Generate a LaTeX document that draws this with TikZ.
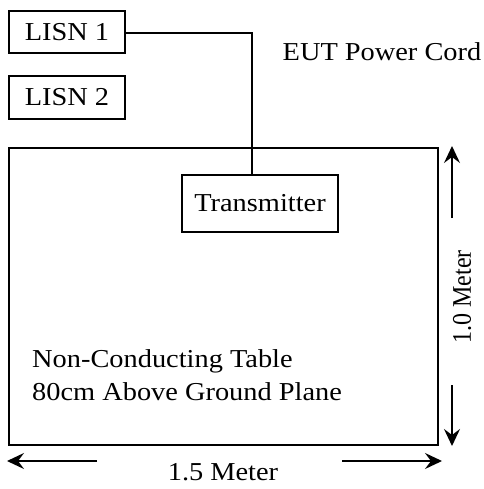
\documentclass[tikz,border=0pt]{standalone}
\usepackage{fontspec}
\setmainfont{Liberation Serif}[FakeStretch=1.1]
\newfontfamily\plainserif{Liberation Serif}
\usetikzlibrary{arrows.meta}
\begin{document}
\begin{tikzpicture}[x=1pt,y=-1pt,
  box/.style={draw,line width=1.3pt,inner sep=0pt},
  lbl/.style={font=\fontsize{25.8}{30}\selectfont,inner sep=0pt},
  vlbl/.style={font=\plainserif\fontsize{24}{28}\selectfont,inner sep=0pt},
  dim/.style={line width=1.5pt,-{Stealth[length=17pt,width=16pt,inset=6pt]}},
  wire/.style={line width=1.3pt}]
\useasboundingbox (0,0) rectangle (483,489);
\node[box,minimum width=116pt,minimum height=42pt] (lisn1) at (67,32) {};
\node[lbl] at (lisn1) {LISN 1};
\node[box,minimum width=116pt,minimum height=43pt] (lisn2) at (67,97.5) {};
\node[lbl] at (lisn2) {LISN 2};
\node[box,minimum width=429pt,minimum height=297pt] (table) at (223.5,296.5) {};
\node[box,minimum width=156pt,minimum height=57pt] (tx) at (260,203.5) {};
\node[lbl] at (tx) {Transmitter};
\coordinate (corner) at (252,33);
\draw[wire] (lisn1.east |- corner) -- (corner) -- (corner |- tx.north);
\node[lbl] (eut) at (382,52) {EUT Power Cord};
\node[lbl,anchor=base west] (nct) at (32,367) {Non-Conducting Table};
\node[lbl,anchor=base west] (abv) at (32,400) {80cm Above Ground Plane};
\coordinate (vt1) at (452,218);
\coordinate (vt0) at (452,146);
\coordinate (vb1) at (452,385);
\coordinate (vb0) at (452,446);
\draw[dim] (vt1) -- (vt0);
\draw[dim] (vb1) -- (vb0);
\begin{scope}[shift={(462,297)},xscale=1.12]
\node[vlbl,transform shape,rotate=90] (vm) at (0,0) {1.0 Meter};
\end{scope}
\coordinate (hl1) at (97,461);
\coordinate (hl0) at (7,461);
\coordinate (hr1) at (342,461);
\coordinate (hr0) at (442,461);
\draw[dim] (hl1) -- (hl0);
\draw[dim] (hr1) -- (hr0);
\node[lbl] (hm) at (223,472) {1.5 Meter};
\end{tikzpicture}
\end{document}
